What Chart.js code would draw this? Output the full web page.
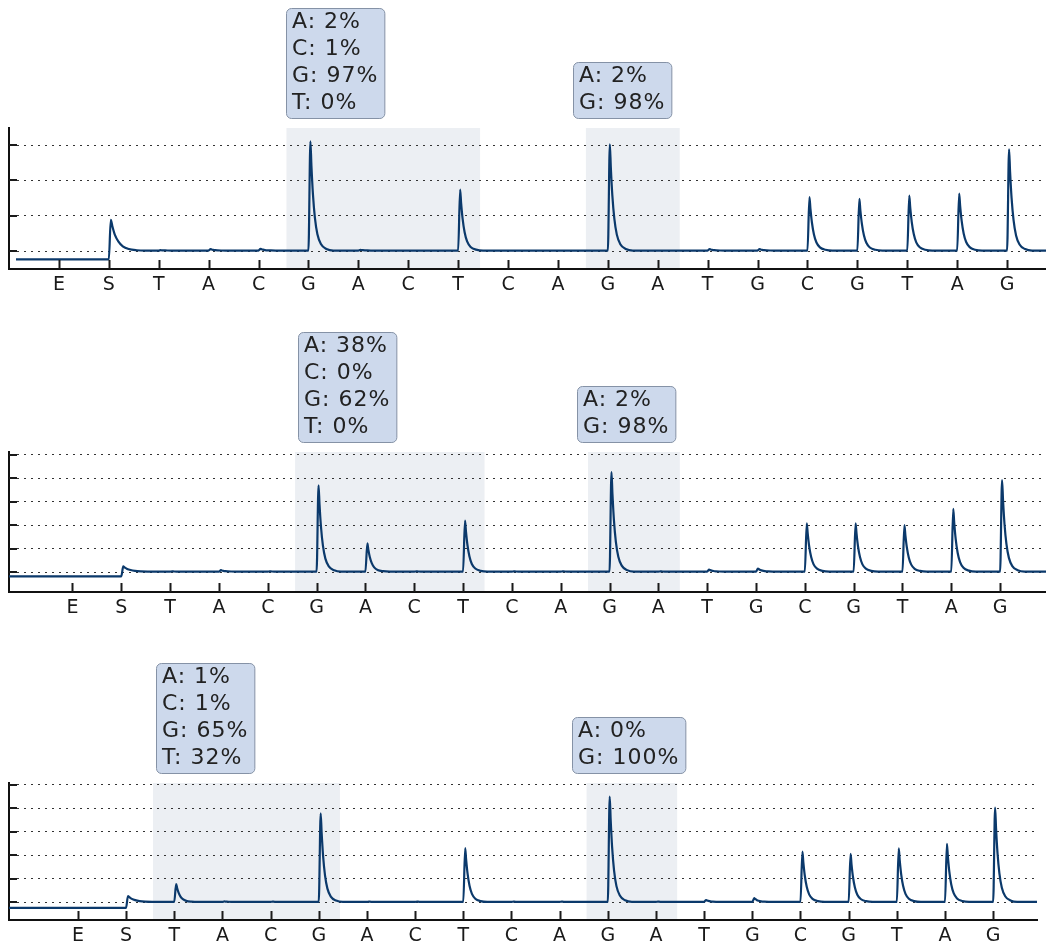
<!DOCTYPE html>
<html>
<head>
<meta charset="utf-8">
<script src="https://cdn.jsdelivr.net/npm/chart.js@4.4.1/dist/chart.umd.min.js"></script>
<style>
  html, body { margin: 0; padding: 0; background: #fff; }
  #wrap { position: relative; width: 1046px; height: 945px; overflow: hidden; }
  #wrap canvas { position: absolute; left: 0; }
</style>
</head>
<body>
<div id="wrap">
  <canvas id="run1"></canvas>
  <canvas id="run2"></canvas>
  <canvas id="run3"></canvas>
</div>
<script>
// Dispensation order shared by all three pyrograms
const dispensations = ['E','S','T','A','C','G','A','C','T','C','A','G','A','T','G','C','G','T','A','G'];

// Peak tops per dispensation (signal units, one unit per grid step); null = no injection signal
const run1Peaks = [null, 0.89, 0.03, 0.06, 0.07, 3.10, 0.04, 0.02, 1.74, 0.02, 0.02, 3.02, 0.02, 0.06, 0.06, 1.53, 1.48, 1.57, 1.63, 2.88];
const run2Peaks = [null, 0.24, 0.03, 0.08, 0.03, 3.70, 1.22, 0.03, 2.20, 0.03, 0.03, 4.26, 0.03, 0.10, 0.15, 2.08, 2.08, 2.00, 2.70, 3.92];
const run3Peaks = [null, 0.27, 0.78, 0.04, 0.03, 3.79, 0.03, 0.03, 2.31, 0.03, 0.03, 4.50, 0.03, 0.10, 0.18, 2.16, 2.06, 2.30, 2.49, 4.03];

// Signal level before the start peak and the baseline after it
const run1Levels = [-0.23, 0.02];
const run2Levels = [-0.18, 0.02];
const run3Levels = [-0.23, 0.02];

// Variable positions (first and last dispensation index of each shaded site)
const run1Sites = [[5, 8], [11, 12]];
const run2Sites = [[5, 8], [11, 12]];
const run3Sites = [[2, 5], [11, 12]];

// Allele frequencies shown above each site
const run1Calls = [['A: 2%', 'C: 1%', 'G: 97%', 'T: 0%'], ['A: 2%', 'G: 98%']];
const run2Calls = [['A: 38%', 'C: 0%', 'G: 62%', 'T: 0%'], ['A: 2%', 'G: 98%']];
const run3Calls = [['A: 1%', 'C: 1%', 'G: 65%', 'T: 32%'], ['A: 0%', 'G: 100%']];

// Outline of a light peak: [distance after the top, share of the height remaining]
const PEAK_TAIL = [[0.02, 0.78], [0.05, 0.52], [0.09, 0.30], [0.14, 0.15], [0.21, 0.06], [0.32, 0.015], [0.46, 0]];
// The substrate (S) pulse fades more slowly
const START_TAIL = [[0.03, 0.80], [0.08, 0.52], [0.15, 0.30], [0.24, 0.14], [0.36, 0.05], [0.52, 0.01], [0.7, 0]];
const RISE = 0.04;

function traceFor(peaks, levels, startX, endX) {
  const [pre, base] = levels;
  const pts = [{ x: startX, y: pre }];
  let level = pre;
  peaks.forEach((top, i) => {
    if (top === null) return;
    const tail = level === pre ? START_TAIL : PEAK_TAIL;
    pts.push({ x: i, y: level });
    pts.push({ x: i + RISE, y: top });
    tail.forEach(([dx, f]) => pts.push({ x: i + RISE + dx, y: base + (top - base) * f }));
    level = base;
  });
  pts.push({ x: endX, y: level });
  return pts;
}

const FONT = "'DejaVu Sans', Verdana, sans-serif";

function marksPlugin(panel) {
  return {
    id: 'pyroMarks',
    beforeDraw(chart) {
      const { ctx, chartArea: a, scales: { x } } = chart;
      ctx.save();
      ctx.fillStyle = '#eceff3';
      panel.sites.forEach(([from, to]) => {
        const l = x.getPixelForValue(from - 0.44);
        const r = x.getPixelForValue(to + 0.44);
        ctx.fillRect(l, a.top, r - l, a.bottom - a.top);
      });
      ctx.restore();
    },
    afterDatasetsDraw(chart) {
      const { ctx, chartArea: a, scales: { x, y } } = chart;
      ctx.save();
      ctx.strokeStyle = '#1a1a1a';
      ctx.lineWidth = 2;
      ctx.beginPath();
      y.ticks.forEach(t => {
        const py = Math.round(y.getPixelForValue(t.value));
        ctx.moveTo(a.left, py);
        ctx.lineTo(a.left + 8, py);
      });
      x.ticks.forEach(t => {
        const px = Math.round(x.getPixelForValue(t.value)) + 0.5;
        ctx.moveTo(px, a.bottom);
        ctx.lineTo(px, a.bottom - 9);
      });
      ctx.stroke();
      ctx.restore();
    },
    afterDraw(chart) {
      const { ctx, chartArea: a, scales: { x } } = chart;
      ctx.save();
      ctx.font = '22px ' + FONT;
      if ('letterSpacing' in ctx) ctx.letterSpacing = '1px';
      panel.calls.forEach((lines, k) => {
        const w = Math.max(...lines.map(t => ctx.measureText(t).width)) + 12;
        const h = lines.length * 27 + 2;
        const bx = Math.round(x.getPixelForValue(panel.boxAt[k])) + 0.5;
        const by = Math.round(a.top - 10 - h) + 0.5;
        ctx.beginPath();
        ctx.roundRect(bx, by, w, h, 5);
        ctx.fillStyle = '#cdd9ec';
        ctx.fill();
        ctx.strokeStyle = '#8592a6';
        ctx.lineWidth = 1;
        ctx.stroke();
        ctx.fillStyle = '#222';
        ctx.textBaseline = 'middle';
        ctx.textAlign = 'left';
        lines.forEach((t, i) => ctx.fillText(t, bx + 5.5, by + 14 + 27 * i));
      });
      ctx.restore();
    }
  };
}

function makeChart(id, panel) {
  const canvas = document.getElementById(id);
  canvas.width = 1046;
  canvas.height = panel.height;
  canvas.style.top = panel.top + 'px';
  canvas.style.width = '1046px';
  canvas.style.height = panel.height + 'px';
  const gridSteps = [];
  for (let v = 0; v <= panel.gridTop; v++) gridSteps.push({ value: v });

  new Chart(canvas, {
    type: 'line',
    data: {
      datasets: [{
        data: traceFor(panel.peaks, panel.levels, panel.traceStart, panel.xMax),
        borderColor: '#0b396b',
        borderWidth: 2.2,
        pointRadius: 0,
        fill: false,
        cubicInterpolationMode: 'monotone'
      }]
    },
    options: {
      responsive: false,
      animation: false,
      devicePixelRatio: 1,
      events: [],
      layout: { padding: { top: panel.padTop, bottom: panel.padBottom, left: 9, right: panel.padRight } },
      plugins: { legend: { display: false }, tooltip: { enabled: false } },
      scales: {
        x: {
          type: 'linear',
          min: panel.xMin,
          max: panel.xMax,
          afterBuildTicks: s => { s.ticks = dispensations.map((_, i) => ({ value: i })); },
          afterFit: s => { s.height = 24; },
          grid: { display: false, drawTicks: false },
          border: { display: true, color: '#111', width: 2 },
          ticks: {
            autoSkip: false,
            maxRotation: 0,
            padding: 5,
            color: '#1a1a1a',
            font: { family: FONT, size: 19 },
            callback: v => dispensations[v] ?? ''
          }
        },
        y: {
          min: panel.yMin,
          max: panel.yMax,
          afterBuildTicks: s => { s.ticks = gridSteps.slice(); },
          afterFit: s => { s.width = 0; },
          grid: { color: '#333', lineWidth: 1, drawTicks: false },
          border: { display: true, color: '#111', width: 2, dash: [2, 5] },
          ticks: { display: false }
        }
      }
    },
    plugins: [marksPlugin(panel)]
  });
}

makeChart('run1', {
  top: 0, height: 310, padTop: 128, padBottom: 17, padRight: 0,
  xMin: -1.0, xMax: 19.78, yMin: -0.5, yMax: 3.48, gridTop: 3,
  traceStart: -0.86,
  peaks: run1Peaks, levels: run1Levels, sites: run1Sites, calls: run1Calls,
  boxAt: [4.55, 10.3]
});
makeChart('run2', {
  top: 310, height: 310, padTop: 142, padBottom: 4, padRight: 0,
  xMin: -1.3, xMax: 19.94, yMin: -0.85, yMax: 5.12, gridTop: 5,
  traceStart: -1.3,
  peaks: run2Peaks, levels: run2Levels, sites: run2Sites, calls: run2Calls,
  boxAt: [4.62, 10.33]
});
makeChart('run3', {
  top: 620, height: 325, padTop: 163, padBottom: 1, padRight: 9,
  xMin: -1.43, xMax: 19.91, yMin: -0.75, yMax: 5.08, gridTop: 5,
  traceStart: -1.43,
  peaks: run3Peaks, levels: run3Levels, sites: run3Sites, calls: run3Calls,
  boxAt: [1.62, 10.26]
});
</script>
</body>
</html>
